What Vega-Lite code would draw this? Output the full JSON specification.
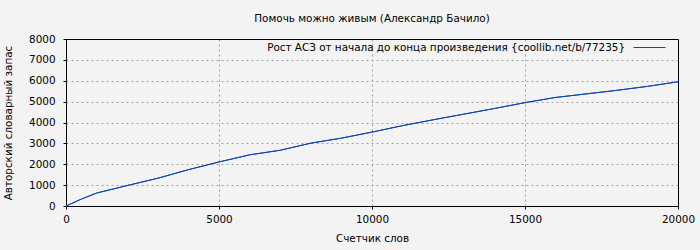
{
  "$schema": "https://vega.github.io/schema/vega-lite/v6.json",
  "width": 612,
  "height": 167,
  "autosize": {"type": "none"},
  "padding": {"left": 66, "top": 39, "right": 22, "bottom": 44},
  "background": "#f3f3f3",
  "title": {
    "text": "Помочь можно живым (Александр Бачило)",
    "font": "DejaVu Sans",
    "fontSize": 10.4,
    "fontWeight": "normal",
    "color": "#000000",
    "offset": 10
  },
  "config": {
    "view": {"stroke": null, "fill": "#f3f3f3"},
    "axis": {
      "labelFont": "DejaVu Sans",
      "labelFontSize": 10.4,
      "labelColor": "#000000",
      "titleFont": "DejaVu Sans",
      "titleFontSize": 10.4,
      "titleFontWeight": "normal",
      "titleColor": "#000000",
      "domainColor": "#000000",
      "tickColor": "#000000",
      "tickSize": 3,
      "gridColor": "#a0a0a0",
      "gridDash": [2, 3],
      "gridOpacity": 1
    }
  },
  "data": {
    "values": [
      {"words": 0, "vocab": 0, "series": "Рост АСЗ от начала до конца произведения {coollib.net/b/77235}"},
      {"words": 500, "vocab": 330, "series": "Рост АСЗ от начала до конца произведения {coollib.net/b/77235}"},
      {"words": 1000, "vocab": 620, "series": "Рост АСЗ от начала до конца произведения {coollib.net/b/77235}"},
      {"words": 2000, "vocab": 980, "series": "Рост АСЗ от начала до конца произведения {coollib.net/b/77235}"},
      {"words": 3000, "vocab": 1330, "series": "Рост АСЗ от начала до конца произведения {coollib.net/b/77235}"},
      {"words": 4000, "vocab": 1740, "series": "Рост АСЗ от начала до конца произведения {coollib.net/b/77235}"},
      {"words": 5000, "vocab": 2110, "series": "Рост АСЗ от начала до конца произведения {coollib.net/b/77235}"},
      {"words": 6000, "vocab": 2450, "series": "Рост АСЗ от начала до конца произведения {coollib.net/b/77235}"},
      {"words": 7000, "vocab": 2670, "series": "Рост АСЗ от начала до конца произведения {coollib.net/b/77235}"},
      {"words": 8000, "vocab": 3010, "series": "Рост АСЗ от начала до конца произведения {coollib.net/b/77235}"},
      {"words": 9000, "vocab": 3250, "series": "Рост АСЗ от начала до конца произведения {coollib.net/b/77235}"},
      {"words": 10000, "vocab": 3540, "series": "Рост АСЗ от начала до конца произведения {coollib.net/b/77235}"},
      {"words": 11000, "vocab": 3850, "series": "Рост АСЗ от начала до конца произведения {coollib.net/b/77235}"},
      {"words": 12000, "vocab": 4130, "series": "Рост АСЗ от начала до конца произведения {coollib.net/b/77235}"},
      {"words": 13000, "vocab": 4400, "series": "Рост АСЗ от начала до конца произведения {coollib.net/b/77235}"},
      {"words": 14000, "vocab": 4670, "series": "Рост АСЗ от начала до конца произведения {coollib.net/b/77235}"},
      {"words": 15000, "vocab": 4950, "series": "Рост АСЗ от начала до конца произведения {coollib.net/b/77235}"},
      {"words": 16000, "vocab": 5200, "series": "Рост АСЗ от начала до конца произведения {coollib.net/b/77235}"},
      {"words": 17000, "vocab": 5370, "series": "Рост АСЗ от начала до конца произведения {coollib.net/b/77235}"},
      {"words": 18000, "vocab": 5540, "series": "Рост АСЗ от начала до конца произведения {coollib.net/b/77235}"},
      {"words": 19000, "vocab": 5730, "series": "Рост АСЗ от начала до конца произведения {coollib.net/b/77235}"},
      {"words": 20000, "vocab": 5950, "series": "Рост АСЗ от начала до конца произведения {coollib.net/b/77235}"}
    ]
  },
  "layer": [
    {
      "mark": {"type": "line", "strokeWidth": 1, "color": "#0b47b0"},
      "encoding": {
        "x": {
          "field": "words",
          "type": "quantitative",
          "scale": {"domain": [0, 20000], "nice": false},
          "axis": {
            "orient": "bottom",
            "title": "Счетчик слов",
            "values": [0, 5000, 10000, 15000, 20000],
            "format": "d",
            "grid": false,
            "labelPadding": 5,
            "titlePadding": 9,
            "labelFlush": false
          }
        },
        "y": {
          "field": "vocab",
          "type": "quantitative",
          "scale": {"domain": [0, 8000], "nice": false},
          "axis": {
            "orient": "left",
            "title": "Авторский словарный запас",
            "values": [0, 1000, 2000, 3000, 4000, 5000, 6000, 7000, 8000],
            "format": "d",
            "grid": false,
            "labelPadding": 8,
            "titlePadding": 15,
            "labelFlush": false
          }
        }
      }
    },
    {
      "mark": {"type": "line", "strokeWidth": 1},
      "encoding": {
        "x": {
          "field": "words",
          "type": "quantitative",
          "scale": {"domain": [0, 20000], "nice": false},
          "axis": {
            "orient": "top",
            "title": null,
            "values": [5000, 10000, 15000],
            "labels": false,
            "ticks": false,
            "grid": true
          }
        },
        "y": {
          "field": "vocab",
          "type": "quantitative",
          "scale": {"domain": [0, 8000], "nice": false},
          "axis": {
            "orient": "right",
            "title": null,
            "values": [1000, 2000, 3000, 4000, 5000, 6000, 7000],
            "labels": false,
            "ticks": false,
            "grid": true
          }
        },
        "color": {
          "field": "series",
          "type": "nominal",
          "scale": {"range": ["#0b47b0"]},
          "legend": {
            "title": null,
            "orient": "none",
            "legendX": 576,
            "legendY": 1,
            "padding": 2,
            "symbolType": "M-3.2,0H3.2",
            "symbolSize": 100,
            "symbolStrokeWidth": 1,
            "symbolFillColor": "transparent",
            "labelAlign": "right",
            "labelOffset": -30,
            "labelFont": "DejaVu Sans",
            "labelFontSize": 10.4,
            "labelColor": "#000000",
            "labelLimit": 0,
            "fillColor": "#f3f3f3"
          }
        }
      }
    }
  ],
  "resolve": {"axis": {"x": "independent", "y": "independent"}}
}
